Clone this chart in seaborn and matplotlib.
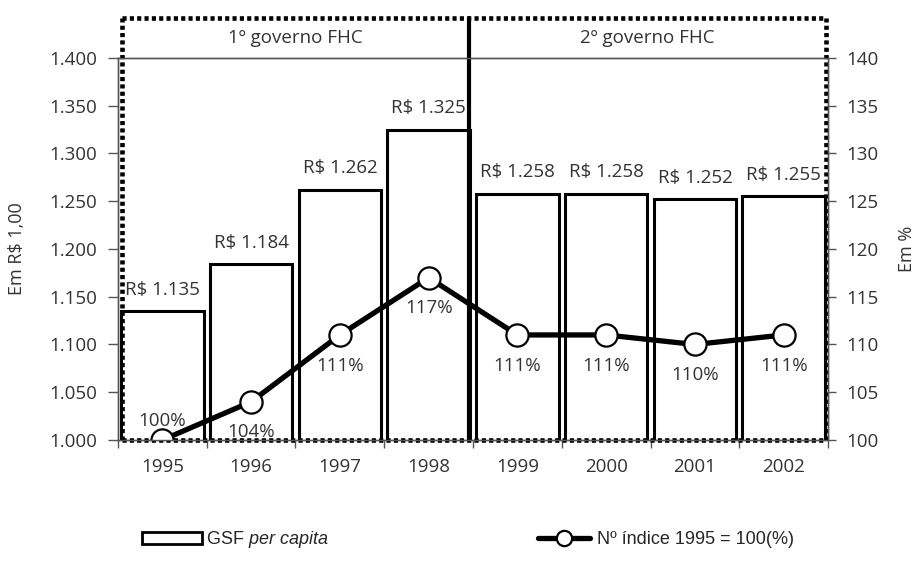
import numpy as np
import pandas as pd
import seaborn as sns
import matplotlib.pyplot as plt
from matplotlib.patches import Patch
from matplotlib.lines import Line2D
from matplotlib.ticker import FuncFormatter

# Gasto social federal per capita (R$) and index (1995 = 100)
anos = ["1995", "1996", "1997", "1998", "1999", "2000", "2001", "2002"]
gsf_per_capita = [1135, 1184, 1262, 1325, 1258, 1258, 1252, 1255]
indice = [100, 104, 111, 117, 111, 111, 110, 111]
periodos = ["1º governo FHC", "2º governo FHC"]

sns.set_theme(style="white")
plt.rcParams["font.family"] = ["Open Sans", "DejaVu Sans"]
plt.rcParams["mathtext.fontset"] = "custom"
plt.rcParams["mathtext.rm"] = "Liberation Sans"
plt.rcParams["mathtext.it"] = "Liberation Sans:italic"

TXT = "#333333"
GRAY = "#555555"

df = pd.DataFrame({"ano": anos, "gsf": gsf_per_capita, "indice": indice})

fig = plt.figure(figsize=(9.18, 5.66), dpi=100)
ax = fig.add_axes([0.1285, 0.2226, 0.7735, 0.675])

sns.barplot(data=df, x="ano", y="gsf", ax=ax, color="white",
            edgecolor="black", linewidth=2.2, width=0.93, saturation=1)
ax.set_xlim(-0.5, len(anos) - 0.5)
ax.set_ylim(1000, 1400)
ax.set_yticks(np.arange(1000, 1401, 50))
ax.yaxis.set_major_formatter(FuncFormatter(lambda v, p: f"{v:,.0f}".replace(",", ".")))
ax.set_xlabel("")
ax.set_ylabel("Em R$ 1,00", fontsize=13, color=TXT, labelpad=17)

# category labels centred, tick marks between categories
ax.set_xticks(range(len(anos)))
ax.set_xticklabels(anos)
ax.set_xticks(np.arange(-0.5, len(anos), 1), minor=True)
ax.tick_params(axis="x", which="major", length=0, pad=13, labelsize=13.5, labelcolor=TXT)
ax.tick_params(axis="x", which="minor", length=6, width=1, color=GRAY, direction="out", bottom=True)
ax.tick_params(axis="y", length=7, width=1, color=GRAY, direction="out", left=True,
               pad=8, labelsize=13.5, labelcolor=TXT)
for s in ax.spines.values():
    s.set_color(GRAY)
    s.set_linewidth(1)

for i, v in enumerate(gsf_per_capita):
    ax.annotate(f"R$ {v:,}".replace(",", "."), (i, v), xytext=(0, 9),
                textcoords="offset points", ha="center", va="bottom",
                fontsize=13.5, color=TXT)

# index line on the secondary axis
ax2 = ax.twinx()
sns.pointplot(data=df, x="ano", y="indice", ax=ax2, color="black",
              markers="o", errorbar=None)
ln = ax2.lines[0]
ln.set_linewidth(3.8)
ln.set_markersize(16)
ln.set_markerfacecolor("white")
ln.set_markeredgecolor("black")
ln.set_markeredgewidth(1.6)
ax2.set_xlim(-0.5, len(anos) - 0.5)
ax2.set_ylim(100, 140)
ax2.set_yticks(np.arange(100, 141, 5))
ax2.set_ylabel("Em %", fontsize=13, color=TXT, labelpad=14)
ax2.tick_params(axis="y", length=6, width=1, color=GRAY, direction="out", right=True,
                pad=7, labelsize=13.5, labelcolor=TXT)
for s in ax2.spines.values():
    s.set_color(GRAY)
    s.set_linewidth(1)

for i, v in enumerate(indice):
    dy = 14 if i == 0 else -22
    ax2.annotate(f"{v}%", (i, v), xytext=(0, dy), textcoords="offset points",
                 ha="center", va="center", fontsize=13.5, color=TXT)

# government period frames
x0, xm, x1 = -0.455, 3.45, 7.48
ytop = 1442
dot = dict(color="black", lw=3.3, linestyle=(0, (0.9, 0.7)), clip_on=False, zorder=5)
ax.plot([x0, x1], [ytop, ytop], **dot)
ax.plot([x0, x0], [1000, ytop], **dot)
ax.plot([x1, x1], [1000, ytop], **dot)
ax.plot([x0, x1], [1000, 1000], **dot)
ax.plot([xm, xm], [1000, ytop], color="black", lw=3, clip_on=False, zorder=5)
ax.text((x0 + xm) / 2, 1421, periodos[0], ha="center", va="center", fontsize=13.5, color=TXT)
ax.text((xm + x1) / 2, 1421, periodos[1], ha="center", va="center", fontsize=13.5, color=TXT)

# legend
leg_font = {"family": ["Liberation Sans"], "size": 13}
h1 = Patch(facecolor="white", edgecolor="black", linewidth=2)
fig.legend([h1], ["GSF $\\it{per\\ capita}$"], loc="center left",
           bbox_to_anchor=(142 / 918, 1 - 540 / 566), frameon=False, prop=leg_font,
           handlelength=3.3, handleheight=0.65, handletextpad=0.25,
           borderpad=0, borderaxespad=0)
h2 = Line2D([], [], color="black", lw=3.8, marker="o", markersize=11,
            markerfacecolor="white", markeredgecolor="black", markeredgewidth=1.6)
fig.legend([h2], ["Nº índice 1995 = 100(%)"], loc="center left",
           bbox_to_anchor=(538 / 918, 1 - 540 / 566), frameon=False, prop=leg_font,
           handlelength=2.9, handletextpad=0.35, borderpad=0, borderaxespad=0)

fig.savefig("out.png", dpi=100)
